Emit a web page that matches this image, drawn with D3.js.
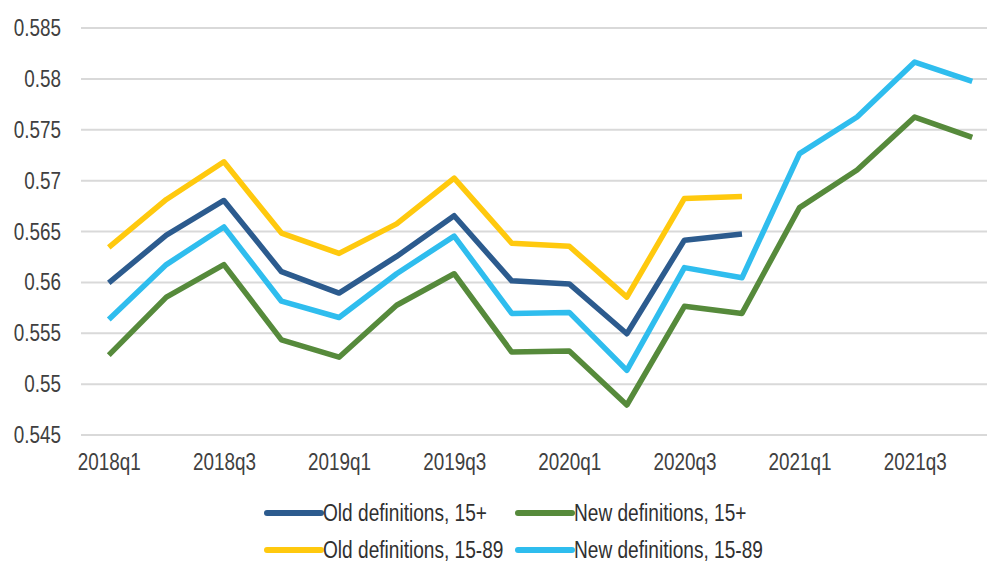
<!DOCTYPE html>
<html>
<head>
<meta charset="utf-8">
<script src="https://cdn.jsdelivr.net/npm/d3@7"></script>
<style>
  body { margin: 0; background: #fff; }
  svg text { font-family: "Liberation Sans", Arial, sans-serif; fill: #404040; }
</style>
</head>
<body>
<div id="chart"></div>
<script>
var quarters = ["2018q1", "2018q2", "2018q3", "2018q4", "2019q1", "2019q2", "2019q3", "2019q4",
		"2020q1", "2020q2", "2020q3", "2020q4", "2021q1", "2021q2", "2021q3", "2021q4"],
	xTickLabels = ["2018q1", "2018q3", "2019q1", "2019q3", "2020q1", "2020q3", "2021q1", "2021q3"],
	yTicks = [0.545, 0.55, 0.555, 0.56, 0.565, 0.57, 0.575, 0.58, 0.585],
	oldDef15 = [0.5599, 0.5646, 0.5680, 0.5610, 0.5589, 0.5625, 0.5665, 0.5601,
		0.5598, 0.5549, 0.5641, 0.5647, null, null, null, null],
	newDef15 = [0.5528, 0.5585, 0.5617, 0.5543, 0.5526, 0.5577, 0.5608, 0.5531,
		0.5532, 0.5479, 0.5576, 0.5569, 0.5673, 0.5710, 0.5762, 0.5742],
	oldDef1589 = [0.5634, 0.5681, 0.5718, 0.5648, 0.5628, 0.5657, 0.5702, 0.5638,
		0.5635, 0.5585, 0.5682, 0.5684, null, null, null, null],
	newDef1589 = [0.5563, 0.5617, 0.5654, 0.5581, 0.5565, 0.5608, 0.5645, 0.5569,
		0.5570, 0.5513, 0.5614, 0.5604, 0.5726, 0.5762, 0.5816, 0.5797],
	seriesNames = ["Old definitions, 15+", "New definitions, 15+", "Old definitions, 15-89", "New definitions, 15-89"];

(function() {
	"use strict";

	var chartWidth = 987,
		chartHeight = 564,
		plotLeft = 81,
		plotRight = 987,
		colors = ["#2c5b8e", "#568a3b", "#ffc90e", "#2fbdee"],
		series = [
			{ name: seriesNames[0], values: oldDef15, color: colors[0] },
			{ name: seriesNames[1], values: newDef15, color: colors[1] },
			{ name: seriesNames[2], values: oldDef1589, color: colors[2] },
			{ name: seriesNames[3], values: newDef1589, color: colors[3] }
		],
		// draw order: yellow, blue, cyan, green as in the picture
		drawOrder = [2, 0, 3, 1];

	// no narrow font available, so squeeze the text horizontally
	function condense(ratio) {
		return function(sel) {
			sel.each(function() {
				var w = this.getComputedTextLength();
				d3.select(this)
					.attr("textLength", w * ratio)
					.attr("lengthAdjust", "spacingAndGlyphs");
			});
		};
	}

	var svg = d3.select("#chart")
		.append("svg")
		.attr("width", chartWidth)
		.attr("height", chartHeight);

	var x = d3.scalePoint()
		.domain(quarters)
		.range([80, 1001])
		.padding(0.5);

	var y = d3.scaleLinear()
		.domain([0.545, 0.585])
		.range([434.5, 27.5]);

	// gridlines + y labels
	var yAxis = svg.append("g")
		.attr("class", "axis axis-y")
		.attr("transform", "translate(" + plotLeft + ",0)")
		.call(d3.axisLeft(y)
			.tickValues(yTicks)
			.tickSize(-(plotRight - plotLeft))
			.tickPadding(20)
			.tickFormat(function(d) { return String(+d.toFixed(3)); }));
	yAxis.select(".domain").remove();
	yAxis.selectAll(".tick line")
		.attr("stroke", "#d9d9d9")
		.attr("stroke-width", 2);
	yAxis.selectAll(".tick text")
		.attr("font-size", 23)
		.attr("font-family", "Liberation Sans, Arial, sans-serif")
		.attr("dy", "0.35em")
		.style("fill", "#404040")
		.call(condense(0.82));

	// x labels
	var xAxis = svg.append("g")
		.attr("class", "axis axis-x")
		.attr("transform", "translate(0,434.5)")
		.call(d3.axisBottom(x)
			.tickValues(xTickLabels)
			.tickSize(0)
			.tickPadding(0));
	xAxis.select(".domain").remove();
	xAxis.selectAll(".tick text")
		.attr("font-size", 23)
		.attr("font-family", "Liberation Sans, Arial, sans-serif")
		.attr("y", 35)
		.attr("dy", 0)
		.style("fill", "#404040")
		.call(condense(0.82));

	var line = d3.line()
		.defined(function(d) { return d !== null; })
		.x(function(d, i) { return x(quarters[i]); })
		.y(function(d) { return y(d); });

	svg.append("g")
		.attr("class", "lines")
		.selectAll("path")
		.data(drawOrder.map(function(k) { return series[k]; }))
		.enter()
		.append("path")
		.attr("fill", "none")
		.attr("stroke", function(d) { return d.color; })
		.attr("stroke-width", 5.5)
		.attr("stroke-linejoin", "round")
		.attr("d", function(d) { return line(d.values); });

	// legend, 2 x 2
	var legendPos = [
		{ x: 267, y: 513 },
		{ x: 518, y: 513 },
		{ x: 267, y: 550 },
		{ x: 518, y: 550 }
	];
	var legend = svg.append("g")
		.attr("class", "legend")
		.selectAll("g")
		.data(series)
		.enter()
		.append("g")
		.attr("transform", function(d, i) {
			return "translate(" + legendPos[i].x + "," + legendPos[i].y + ")";
		});
	legend.append("line")
		.attr("x1", 0)
		.attr("x2", 54)
		.attr("stroke", function(d) { return d.color; })
		.attr("stroke-width", 6)
		.attr("stroke-linecap", "round");
	legend.append("text")
		.attr("x", 56)
		.attr("dy", "0.33em")
		.attr("font-size", 23)
		.style("fill", "#303030")
		.text(function(d) { return d.name; })
		.call(condense(0.83));
})();
</script>
</body>
</html>
